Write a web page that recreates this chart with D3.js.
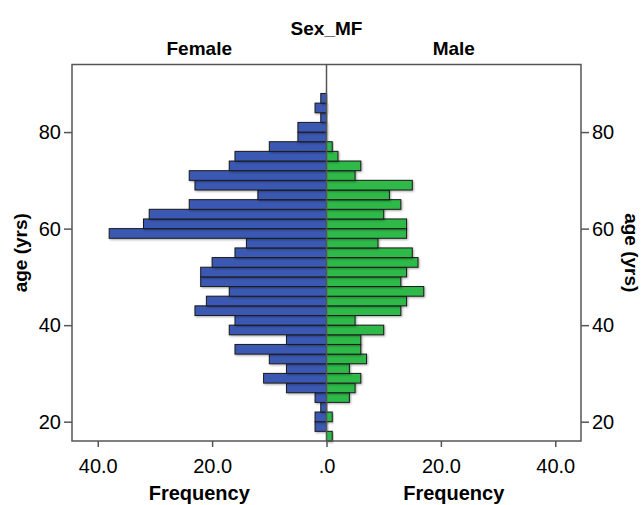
<!DOCTYPE html>
<html>
<head>
<meta charset="utf-8">
<script src="https://cdn.jsdelivr.net/npm/d3@7"></script>
<style>
  body { margin: 0; background: #fff; }
  svg { display: block; font-family: "Liberation Sans", Arial, sans-serif; }
</style>
</head>
<body>
<svg id="chart" width="644" height="505"></svg>
<script>
// Age bins (start of each 2-year bin), youngest first
const binStarts = [16, 18, 20, 22, 24, 26, 28, 30, 32, 34, 36, 38, 40, 42, 44, 46, 48, 50,
                   52, 54, 56, 58, 60, 62, 64, 66, 68, 70, 72, 74, 76, 78, 80, 82, 84, 86];
const femaleCounts = [0, 2, 2, 1, 2, 7, 11, 7, 10, 16, 7, 17, 16, 23, 21, 17, 22, 22,
                      20, 16, 14, 38, 32, 31, 24, 12, 23, 24, 17, 16, 10, 5, 5, 1, 2, 1];
const maleCounts = [1, 0, 1, 0, 4, 5, 6, 4, 7, 6, 6, 10, 5, 13, 14, 17, 13, 14,
                    16, 15, 9, 14, 14, 10, 13, 11, 15, 5, 6, 2, 1, 0, 0, 0, 0, 0];
const ageTicks = [20, 40, 60, 80];
const freqTicks = [0, 20, 40];
const binWidth = 2;

const femaleColor = "#3b58b2";
const maleColor = "#2db949";

const svg = d3.select("#chart");

// Plot frame
const plotLeft = 72, plotRight = 581, plotTop = 64.5, plotBottom = 441;
const center = 326.5;

// Scales
const y = d3.scaleLinear().domain([16, 94]).range([plotBottom, plotTop]);
const xFemale = d3.scaleLinear().domain([0, 44.5]).range([center, plotLeft]);
const xMale = d3.scaleLinear().domain([0, 44.5]).range([center, plotRight]);

const fmt = d => d === 0 ? ".0" : d.toFixed(1);

// Drop shadow for bars
const defs = svg.append("defs");
const filter = defs.append("filter")
  .attr("id", "shadow")
  .attr("x", "-10%").attr("y", "-20%")
  .attr("width", "130%").attr("height", "160%");
filter.append("feDropShadow")
  .attr("dx", 1).attr("dy", 1)
  .attr("stdDeviation", 0.8)
  .attr("flood-color", "#000")
  .attr("flood-opacity", 0.35);

// Female bars
svg.append("g")
  .selectAll("rect")
  .data(binStarts.map((s, i) => ({ s, v: femaleCounts[i] })).filter(d => d.v > 0))
  .join("rect")
  .attr("x", d => xFemale(d.v))
  .attr("y", d => y(d.s + binWidth))
  .attr("width", d => xFemale(0) - xFemale(d.v))
  .attr("height", d => y(d.s) - y(d.s + binWidth))
  .attr("fill", femaleColor)
  .attr("stroke", "#1a1a1a")
  .attr("stroke-width", 1)
  .style("filter", "url(#shadow)");

// Male bars
svg.append("g")
  .selectAll("rect")
  .data(binStarts.map((s, i) => ({ s, v: maleCounts[i] })).filter(d => d.v > 0))
  .join("rect")
  .attr("x", xMale(0))
  .attr("y", d => y(d.s + binWidth))
  .attr("width", d => xMale(d.v) - xMale(0))
  .attr("height", d => y(d.s) - y(d.s + binWidth))
  .attr("fill", maleColor)
  .attr("stroke", "#1a1a1a")
  .attr("stroke-width", 1)
  .style("filter", "url(#shadow)");

// Frame lines
const frameColor = "#555";
svg.append("rect")
  .attr("x", plotLeft).attr("y", plotTop)
  .attr("width", plotRight - plotLeft).attr("height", plotBottom - plotTop)
  .attr("fill", "none")
  .attr("stroke", frameColor)
  .attr("stroke-width", 1.5);
svg.append("line")
  .attr("x1", center).attr("x2", center)
  .attr("y1", plotTop).attr("y2", plotBottom)
  .attr("stroke", frameColor)
  .attr("stroke-width", 1.5);

// Axes
function styleAxis(g) {
  g.select(".domain").remove();
  g.selectAll(".tick line").attr("stroke", frameColor).attr("stroke-width", 1.5);
  g.selectAll(".tick text").attr("fill", "#000").style("font-size", "20px");
}

svg.append("g")
  .attr("transform", `translate(${plotLeft},0)`)
  .call(d3.axisLeft(y).tickValues(ageTicks).tickSize(8).tickPadding(3))
  .call(styleAxis);

svg.append("g")
  .attr("transform", `translate(${plotRight},0)`)
  .call(d3.axisRight(y).tickValues(ageTicks).tickSize(8).tickPadding(3))
  .call(styleAxis);

svg.append("g")
  .attr("transform", `translate(0,${plotBottom})`)
  .call(d3.axisBottom(xFemale).tickValues(freqTicks).tickFormat(fmt).tickSize(6).tickPadding(12))
  .call(styleAxis);

svg.append("g")
  .attr("transform", `translate(0,${plotBottom})`)
  .call(d3.axisBottom(xMale).tickValues(freqTicks.filter(d => d > 0)).tickFormat(fmt).tickSize(6).tickPadding(12))
  .call(styleAxis);

// Titles
const bold = sel => sel.attr("font-weight", "bold").attr("fill", "#000").attr("text-anchor", "middle");

svg.append("text").call(bold)
  .attr("x", center).attr("y", 35)
  .style("font-size", "19px")
  .text("Sex_MF");

svg.append("text").call(bold)
  .attr("x", (plotLeft + center) / 2).attr("y", 55)
  .style("font-size", "19px")
  .text("Female");

svg.append("text").call(bold)
  .attr("x", (center + plotRight) / 2).attr("y", 55)
  .style("font-size", "19px")
  .text("Male");

svg.append("text").call(bold)
  .attr("x", (plotLeft + center) / 2).attr("y", 500)
  .style("font-size", "20px")
  .text("Frequency");

svg.append("text").call(bold)
  .attr("x", (center + plotRight) / 2).attr("y", 500)
  .style("font-size", "20px")
  .text("Frequency");

const midY = (plotTop + plotBottom) / 2;
svg.append("text").call(bold)
  .attr("transform", `translate(27,${midY}) rotate(-90)`)
  .style("font-size", "19px")
  .text("age (yrs)");

svg.append("text").call(bold)
  .attr("transform", `translate(625,${midY}) rotate(90)`)
  .style("font-size", "19px")
  .text("age (yrs)");
</script>
</body>
</html>
